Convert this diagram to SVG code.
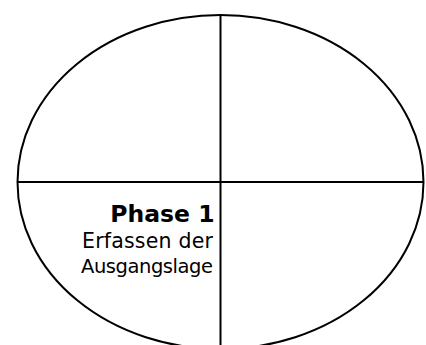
<svg xmlns="http://www.w3.org/2000/svg" width="426" height="345" viewBox="0 0 426 345">
<style>
.ln{fill:none;stroke:#000;stroke-width:2}
.t{font-family:"DejaVu Sans","Verdana",sans-serif;fill:#000;text-anchor:end}
.b{font-weight:bold;font-size:23.5px}
.r{font-size:20.5px}
.r2{font-size:19.5px}
</style>
<rect width="426" height="345" fill="#fff"/>
<g id="cycle">
<ellipse class="ln" cx="220.5" cy="182" rx="203" ry="167"/>
<line class="ln" x1="17.5" y1="182" x2="423.5" y2="182"/>
<line class="ln" x1="220.5" y1="15" x2="220.5" y2="349"/>
</g>
<g id="phase1">
<text class="t b" x="214.5" y="222">Phase 1</text>
<text class="t r" x="213" y="248" textLength="131" lengthAdjust="spacing">Erfassen der</text>
<text class="t r2" x="213" y="273" textLength="132" lengthAdjust="spacing">Ausgangslage</text>
</g>
</svg>
